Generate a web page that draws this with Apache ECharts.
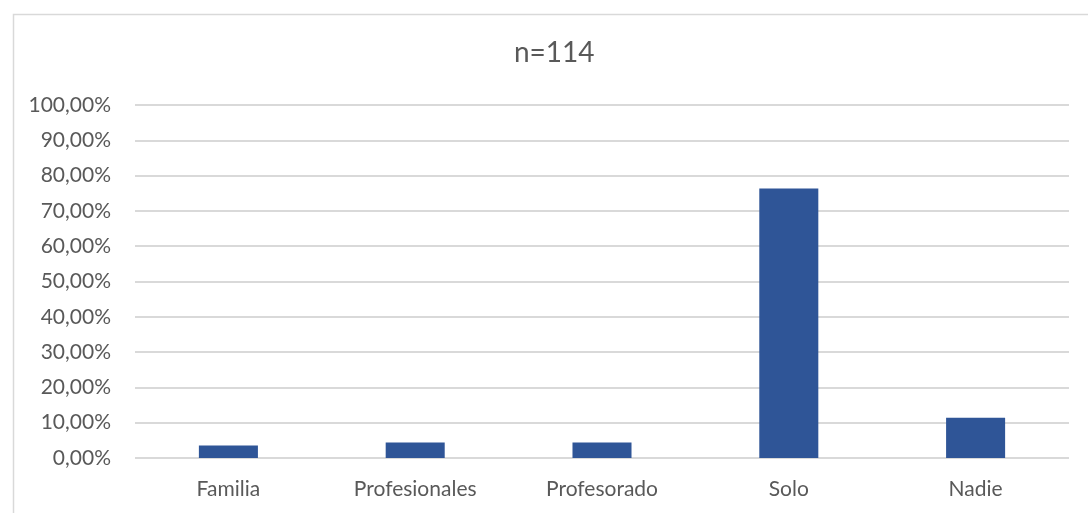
<!DOCTYPE html>
<html>
<head>
<meta charset="utf-8">
<script src="https://cdn.jsdelivr.net/npm/echarts@6/dist/echarts.min.js"></script>
<style>
  html, body { margin: 0; padding: 0; background: #fff; }
  #chart { width: 1088px; height: 513px; }
</style>
</head>
<body>
<div id="chart"></div>
<script>
// Respuestas (n = 114), porcentaje por categoría
const categories = ['Familia', 'Profesionales', 'Profesorado', 'Solo', 'Nadie'];
const percentages = [3.51, 4.39, 4.39, 76.32, 11.40];
const titleText = 'n=114';

const fontFamily = 'Lato, "Open Sans", sans-serif';
const textColor = '#595959';

const chart = echarts.init(document.getElementById('chart'), null, { renderer: 'canvas' });

chart.setOption({
  animation: false,
  backgroundColor: '#ffffff',
  graphic: [{
    type: 'rect',
    left: 11,
    top: 12,
    shape: { width: 1200, height: 600 },
    style: { fill: 'none', stroke: '#d9d9d9', lineWidth: 1.5 },
    silent: true
  }],
  title: {
    text: titleText,
    left: 509,
    top: 34,
    textStyle: { fontFamily, fontSize: 28, fontWeight: 'normal', color: textColor }
  },
  grid: { left: 135, right: 19, top: 105, bottom: 55, containLabel: false },
  xAxis: {
    type: 'category',
    data: categories,
    axisLine: { show: false },
    axisTick: { show: false },
    axisLabel: { fontFamily, fontSize: 21, color: textColor, margin: 21 }
  },
  yAxis: {
    type: 'value',
    min: 0,
    max: 100,
    interval: 10,
    axisLine: { show: false },
    axisTick: { show: false },
    splitLine: { lineStyle: { color: '#d9d9d9', width: 2 } },
    axisLabel: {
      fontFamily, fontSize: 21, color: textColor, margin: 24,
      formatter: v => v.toFixed(2).replace('.', ',') + '%'
    }
  },
  series: [{
    type: 'bar',
    data: percentages,
    barWidth: '31.6%',
    itemStyle: { color: '#2f5597' }
  }]
});
</script>
</body>
</html>
